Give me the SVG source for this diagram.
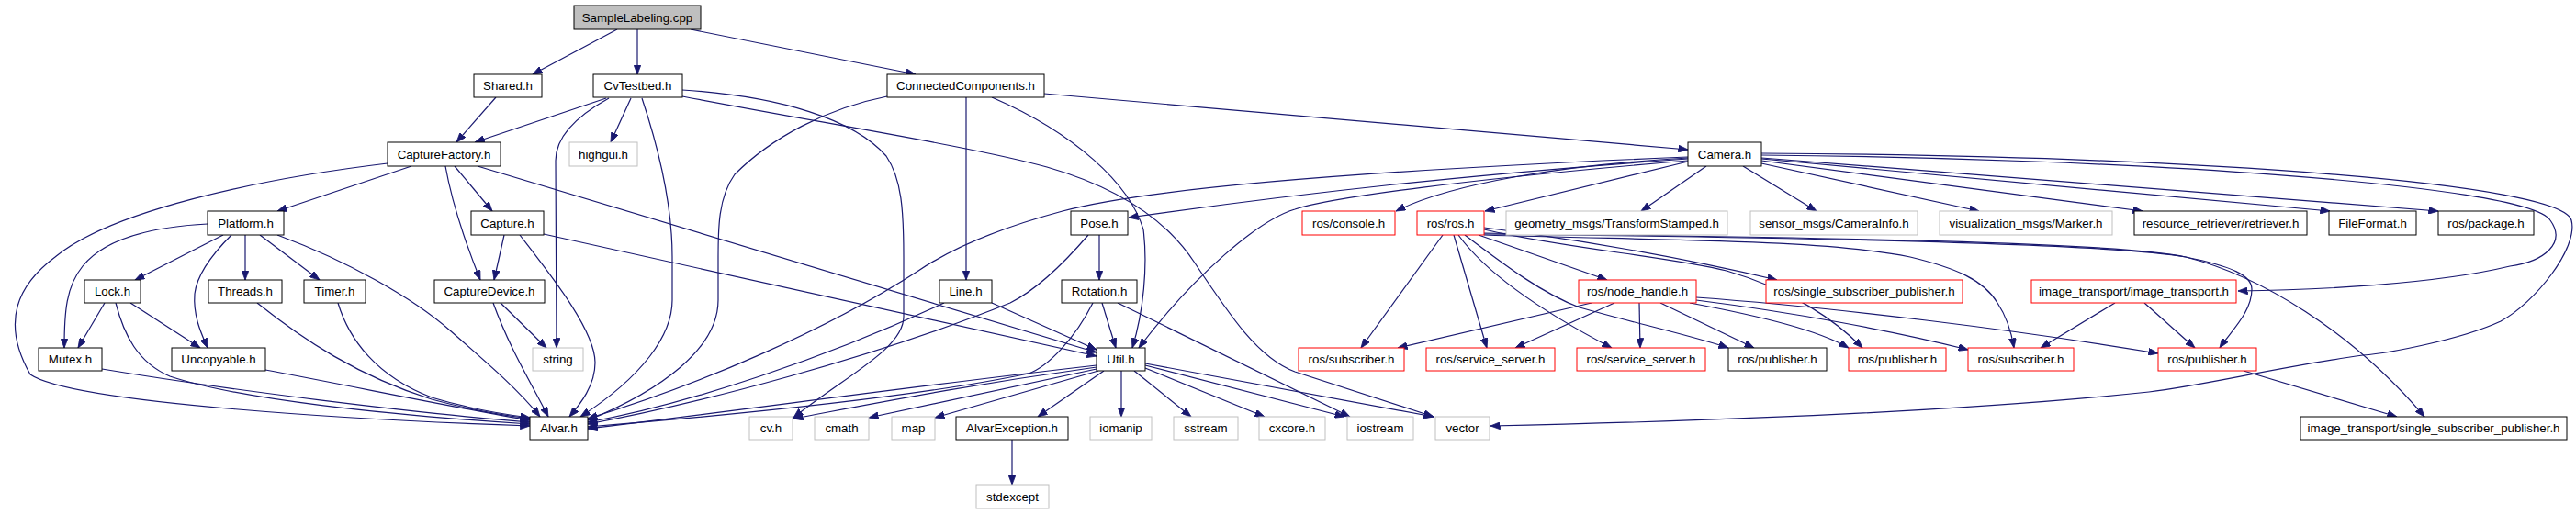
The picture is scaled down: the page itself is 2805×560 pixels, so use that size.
<svg xmlns="http://www.w3.org/2000/svg" width="2805" height="560" viewBox="0 0 2805 560">
<style>
rect{fill:#fff;stroke:#000;stroke-width:1}
rect.g{stroke:#bfbfbf}
rect.r{stroke:#ff0000}
rect.root{fill:#bfbfbf}
text{font-family:"Liberation Sans",Arial,sans-serif;font-size:13.3px;text-anchor:middle;fill:#000}
#edges path{fill:none;stroke:#191970;stroke-width:1.2;marker-end:url(#a)}
</style>
<defs>
<marker id="a" markerUnits="userSpaceOnUse" markerWidth="11" markerHeight="8" refX="10.5" refY="4" orient="auto">
<path d="M0,0 L10.5,4 L0,8 z" fill="#191970" stroke="#191970" stroke-width="0.8"/>
</marker>
</defs>
<rect x="0" y="0" width="2805" height="560" style="fill:#fff;stroke:none"/>
<g id="edges">
<path d="M672,32 L580,81"/>
<path d="M694,32 L694,81"/>
<path d="M752,32 L997,81"/>
<path d="M540,106 L497,155"/>
<path d="M660,107 L517,155"/>
<path d="M687,107 L665,155"/>
<path d="M663,107 C625,128 605,150 605,175 L606,379"/>
<path d="M699,107 C720,170 732,230 732,280 L732,327 C732,365 700,410 632,454"/>
<path d="M743,98 C850,105 930,130 965,170 C982,195 984,230 984,280 L984,345 C984,380 920,410 864,455"/>
<path d="M743,105 C900,135 1060,160 1140,182 C1220,205 1270,240 1300,285 C1340,345 1370,390 1410,405 L1561,454"/>
<path d="M1052,106 L1052,305"/>
<path d="M966,105 C900,118 840,150 800,190 C782,215 782,250 782,280 L782,327 C782,380 720,425 640,458"/>
<path d="M1080,106 C1170,145 1230,200 1245,250 C1250,290 1245,340 1233,379"/>
<path d="M1137,102 L1838,163"/>
<path d="M448,181 L302,230"/>
<path d="M422,178 C280,195 120,230 60,280 C20,310 0,350 33,408 C80,440 400,458 577,464"/>
<path d="M495,181 L536,230"/>
<path d="M485,181 C492,220 505,260 523,305"/>
<path d="M520,181 L1194,384"/>
<path d="M549,256 L538,305"/>
<path d="M566,256 C600,300 648,360 648,395 C648,420 632,440 620,454"/>
<path d="M592,255 L1194,388"/>
<path d="M537,330 C555,380 580,420 597,454"/>
<path d="M545,330 L595,379"/>
<path d="M243,256 L147,305"/>
<path d="M226,244 C150,248 110,265 90,290 C72,312 70,340 70,379"/>
<path d="M252,256 C240,268 215,295 212,320 C210,345 220,365 226,379"/>
<path d="M267,256 L267,305"/>
<path d="M283,256 L348,305"/>
<path d="M302,256 C380,285 450,325 490,360 C530,395 565,425 588,454"/>
<path d="M114,330 L85,379"/>
<path d="M142,330 L218,379"/>
<path d="M126,330 C135,365 150,395 185,410 C260,435 420,452 577,462"/>
<path d="M111,402 C250,425 450,450 577,460"/>
<path d="M289,403 C380,420 500,445 577,458"/>
<path d="M280,330 C330,370 390,410 470,435 C510,446 545,452 577,456"/>
<path d="M368,330 C380,370 410,410 470,433 C510,445 545,451 577,455"/>
<path d="M1080,330 L1194,381"/>
<path d="M1028,330 C900,390 750,440 640,460"/>
<path d="M1197,256 L1197,305"/>
<path d="M1185,256 C1160,285 1130,315 1100,330 C950,390 760,440 640,462"/>
<path d="M1200,330 L1215,379"/>
<path d="M1190,330 C1170,370 1140,400 1120,407 C1000,432 800,452 640,465"/>
<path d="M1217,330 L1470,454"/>
<path d="M1194,398 C1000,420 800,448 640,467"/>
<path d="M1194,400 C1050,420 950,440 864,456"/>
<path d="M1194,402 L946,455"/>
<path d="M1196,404 L1018,455"/>
<path d="M1202,404 L1130,454"/>
<path d="M1221,404 L1221,454"/>
<path d="M1235,404 L1297,454"/>
<path d="M1247,401 L1377,454"/>
<path d="M1247,398 L1464,454"/>
<path d="M1247,396 L1561,454"/>
<path d="M1102,479 L1102,528"/>
<path d="M1838,171 C1500,185 1250,205 1157,230 C1090,248 1040,268 1000,295 C900,360 760,420 640,456"/>
<path d="M1838,173 C1600,190 1420,210 1229,237"/>
<path d="M1838,175 C1600,195 1450,215 1410,228 C1370,240 1300,300 1240,379"/>
<path d="M1838,172 C1700,180 1580,200 1520,230"/>
<path d="M1838,176 L1617,230"/>
<path d="M1858,181 L1787,230"/>
<path d="M1898,181 L1978,230"/>
<path d="M1918,178 L2155,230"/>
<path d="M1918,175 L2333,230"/>
<path d="M1918,173 L2537,230"/>
<path d="M1918,172 L2655,230"/>
<path d="M1918,169 C2300,172 2750,200 2777,240 C2795,265 2770,285 2733,290 C2650,310 2520,316 2437,317"/>
<path d="M1918,167 C2400,170 2790,200 2800,240 C2808,270 2760,330 2723,350 C2680,370 2600,385 2573,387 C2480,400 2400,420 2340,427 C2150,447 1900,458 1623,464"/>
<path d="M1571,256 L1482,379"/>
<path d="M1583,256 L1619,379"/>
<path d="M1588,256 C1620,300 1680,340 1755,379"/>
<path d="M1610,256 L1750,305"/>
<path d="M1595,256 C1640,290 1680,320 1720,335 C1780,352 1840,365 1882,379"/>
<path d="M1616,250 C1700,270 1820,280 1880,295 C1950,315 2000,350 2028,379"/>
<path d="M1616,248 C1750,265 1850,285 1935,305"/>
<path d="M1616,256 C1800,262 1980,260 2080,280 C2130,292 2160,305 2175,330 C2185,345 2190,360 2193,379"/>
<path d="M1616,255 C1900,258 2300,265 2380,280 C2430,290 2452,300 2452,315 C2452,340 2430,360 2417,379"/>
<path d="M1616,254 C1900,258 2300,262 2380,280 C2460,300 2560,360 2640,454"/>
<path d="M1733,330 L1522,379"/>
<path d="M1758,330 L1650,379"/>
<path d="M1785,330 L1786,379"/>
<path d="M1808,330 L1910,379"/>
<path d="M1840,330 C1920,345 1980,360 2013,379"/>
<path d="M1847,327 C1950,340 2060,360 2143,381"/>
<path d="M1847,324 C2000,335 2200,360 2350,385"/>
<path d="M2303,330 L2222,379"/>
<path d="M2335,330 L2390,379"/>
<path d="M2443,404 L2610,454"/>
</g>
<g id="n_sample"><rect class="root" x="625" y="6" width="138" height="26"/><text x="694" y="24">SampleLabeling.cpp</text></g>
<g id="n_shared"><rect x="516" y="81" width="74" height="25"/><text x="553" y="98">Shared.h</text></g>
<g id="n_cvtestbed"><rect x="646" y="81" width="97" height="25"/><text x="694.5" y="98">CvTestbed.h</text></g>
<g id="n_cc"><rect x="966" y="81" width="171" height="25"/><text x="1051.5" y="98">ConnectedComponents.h</text></g>
<g id="n_capfactory"><rect x="422" y="155" width="123" height="26"/><text x="483.5" y="173">CaptureFactory.h</text></g>
<g id="n_highgui"><rect class="g" x="620" y="155" width="74" height="26"/><text x="657" y="173">highgui.h</text></g>
<g id="n_camera"><rect x="1838" y="155" width="80" height="26"/><text x="1878" y="173">Camera.h</text></g>
<g id="n_platform"><rect x="226" y="230" width="83" height="26"/><text x="267.5" y="248">Platform.h</text></g>
<g id="n_capture"><rect x="513" y="230" width="79" height="26"/><text x="552.5" y="248">Capture.h</text></g>
<g id="n_pose"><rect x="1166" y="230" width="62" height="26"/><text x="1197" y="248">Pose.h</text></g>
<g id="n_console"><rect class="r" x="1418" y="230" width="101" height="26"/><text x="1468.5" y="248">ros/console.h</text></g>
<g id="n_rosh"><rect class="r" x="1543" y="230" width="73" height="26"/><text x="1579.5" y="248">ros/ros.h</text></g>
<g id="n_geom"><rect class="g" x="1640" y="230" width="241" height="26"/><text x="1760.5" y="248">geometry_msgs/TransformStamped.h</text></g>
<g id="n_sensor"><rect class="g" x="1906" y="230" width="182" height="26"/><text x="1997" y="248">sensor_msgs/CameraInfo.h</text></g>
<g id="n_vis"><rect class="g" x="2112" y="230" width="188" height="26"/><text x="2206" y="248">visualization_msgs/Marker.h</text></g>
<g id="n_retriever"><rect x="2324" y="230" width="188" height="26"/><text x="2418" y="248">resource_retriever/retriever.h</text></g>
<g id="n_fileformat"><rect x="2536" y="230" width="95" height="26"/><text x="2583.5" y="248">FileFormat.h</text></g>
<g id="n_package"><rect x="2655" y="230" width="104" height="26"/><text x="2707" y="248">ros/package.h</text></g>
<g id="n_lock"><rect x="92" y="305" width="61" height="25"/><text x="122.5" y="322">Lock.h</text></g>
<g id="n_threads"><rect x="227" y="305" width="80" height="25"/><text x="267" y="322">Threads.h</text></g>
<g id="n_timer"><rect x="331" y="305" width="67" height="25"/><text x="364.5" y="322">Timer.h</text></g>
<g id="n_capdevice"><rect x="473" y="305" width="120" height="25"/><text x="533" y="322">CaptureDevice.h</text></g>
<g id="n_line"><rect x="1023" y="305" width="57" height="25"/><text x="1051.5" y="322">Line.h</text></g>
<g id="n_rotation"><rect x="1156" y="305" width="82" height="25"/><text x="1197" y="322">Rotation.h</text></g>
<g id="n_nodehandle"><rect class="r" x="1719" y="305" width="128" height="25"/><text x="1783" y="322">ros/node_handle.h</text></g>
<g id="n_ssp"><rect class="r" x="1923" y="305" width="214" height="25"/><text x="2030" y="322">ros/single_subscriber_publisher.h</text></g>
<g id="n_imgtrans"><rect class="r" x="2212" y="305" width="223" height="25"/><text x="2323.5" y="322">image_transport/image_transport.h</text></g>
<g id="n_mutex"><rect x="42" y="379" width="69" height="25"/><text x="76.5" y="396">Mutex.h</text></g>
<g id="n_uncopyable"><rect x="187" y="379" width="102" height="25"/><text x="238" y="396">Uncopyable.h</text></g>
<g id="n_string"><rect class="g" x="580" y="379" width="55" height="25"/><text x="607.5" y="396">string</text></g>
<g id="n_util"><rect x="1194" y="379" width="53" height="25"/><text x="1220.5" y="396">Util.h</text></g>
<g id="n_sub1"><rect class="r" x="1414" y="379" width="115" height="25"/><text x="1471.5" y="396">ros/subscriber.h</text></g>
<g id="n_srv1"><rect class="r" x="1553" y="379" width="140" height="25"/><text x="1623" y="396">ros/service_server.h</text></g>
<g id="n_srv2"><rect class="r" x="1717" y="379" width="140" height="25"/><text x="1787" y="396">ros/service_server.h</text></g>
<g id="n_pub1"><rect x="1882" y="379" width="107" height="25"/><text x="1935.5" y="396">ros/publisher.h</text></g>
<g id="n_pub2"><rect class="r" x="2013" y="379" width="106" height="25"/><text x="2066" y="396">ros/publisher.h</text></g>
<g id="n_sub2"><rect class="r" x="2143" y="379" width="115" height="25"/><text x="2200.5" y="396">ros/subscriber.h</text></g>
<g id="n_pub3"><rect class="r" x="2350" y="379" width="107" height="25"/><text x="2403.5" y="396">ros/publisher.h</text></g>
<g id="n_alvar"><rect x="577" y="454" width="63" height="25"/><text x="608.5" y="471">Alvar.h</text></g>
<g id="n_cvh"><rect class="g" x="816" y="454" width="47" height="25"/><text x="839.5" y="471">cv.h</text></g>
<g id="n_cmath"><rect class="g" x="887" y="454" width="59" height="25"/><text x="916.5" y="471">cmath</text></g>
<g id="n_map"><rect class="g" x="971" y="454" width="47" height="25"/><text x="994.5" y="471">map</text></g>
<g id="n_alvarexc"><rect x="1041" y="454" width="122" height="25"/><text x="1102" y="471">AlvarException.h</text></g>
<g id="n_iomanip"><rect class="g" x="1187" y="454" width="67" height="25"/><text x="1220.5" y="471">iomanip</text></g>
<g id="n_sstream"><rect class="g" x="1278" y="454" width="70" height="25"/><text x="1313" y="471">sstream</text></g>
<g id="n_cxcore"><rect class="g" x="1371" y="454" width="72" height="25"/><text x="1407" y="471">cxcore.h</text></g>
<g id="n_iostream"><rect class="g" x="1467" y="454" width="72" height="25"/><text x="1503" y="471">iostream</text></g>
<g id="n_vector"><rect class="g" x="1563" y="454" width="59" height="25"/><text x="1592.5" y="471">vector</text></g>
<g id="n_itssp"><rect x="2505" y="454" width="290" height="25"/><text x="2650" y="471">image_transport/single_subscriber_publisher.h</text></g>
<g id="n_stdexcept"><rect class="g" x="1063" y="528" width="79" height="26"/><text x="1102.5" y="546">stdexcept</text></g>
</svg>
